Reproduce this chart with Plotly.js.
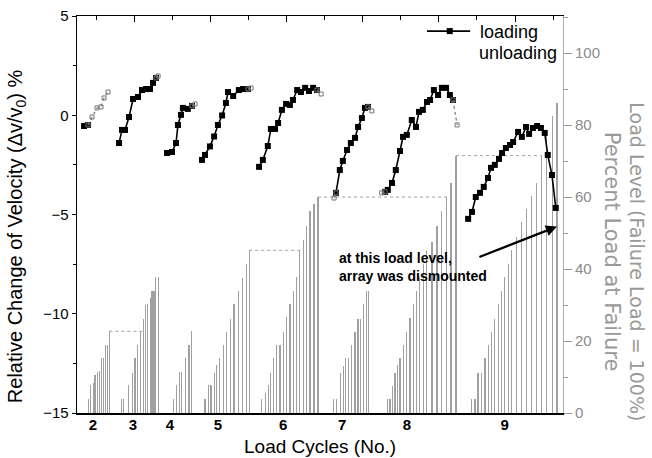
<!DOCTYPE html>
<html>
<head>
<meta charset="utf-8">
<script src="https://cdn.plot.ly/plotly-3.0.1.min.js"></script>
<style>html,body{margin:0;padding:0;background:#fff;}#chart{width:652px;height:458px;}</style>
</head>
<body>
<div id="chart"></div>
<script>
// Cycle labels on the x axis
const cycleLabels = ['2','3','4','5','6','7','8','9'];
const cyclePos = [0.92, 1.97, 2.94, 4.20, 5.91, 7.46, 9.16, 11.73];

// Relative change of velocity, loading branch (null separates cycles)
const loadingX = [
  0.685, 0.79, null,
  1.604, 1.682, 1.76, 1.866, 1.971, 2.102, 2.207, 2.312, 2.417, 2.496, 2.575, null,
  2.864, 2.995, 3.10, 3.15, 3.23, 3.28, 3.41, 3.52, null,
  3.78, 3.86, 3.99, 4.10, 4.20, 4.31, 4.41, 4.465, 4.60, 4.75, 4.86, 4.99, null,
  5.28, 5.38, 5.51, 5.59, 5.70, 5.78, 5.88, 5.99, 6.09, 6.17, 6.28, 6.38, 6.49, 6.59, 6.70, 6.80, null,
  7.30, 7.40, 7.48, 7.59, 7.69, 7.80, 7.88, 7.98, 8.06, 8.14, null,
  8.59, 8.66, 8.77, 8.87, 8.98, 9.06, 9.16, 9.29, 9.40, 9.48, 9.58, 9.69, 9.77, 9.87, 9.98, 10.08, 10.19, 10.29, 10.37, null,
  10.77, 10.87, 10.97, 11.08, 11.18, 11.29, 11.37, 11.47, 11.58, 11.66, 11.76, 11.87, 11.95, 12.08, 12.18, 12.29, 12.37, 12.47, 12.58, 12.68, 12.78, 12.86, 12.97, 13.07
];
const loadingY = [
  -0.54, -0.49, null,
  -1.40, -0.74, -0.74, -0.09, 0.82, 0.92, 1.27, 1.32, 1.32, 1.63, 1.88, null,
  -1.90, -1.85, -1.40, -0.49, 0.02, 0.37, 0.32, 0.47, null,
  -2.25, -2.00, -1.57, -1.07, -0.49, -0.01, 0.62, 1.17, 0.97, 1.27, 1.32, 1.32, null,
  -2.60, -2.25, -1.55, -0.69, -0.69, -0.39, 0.27, 0.57, 0.52, 0.77, 1.27, 1.17, 1.38, 1.22, 1.38, 1.27, null,
  -3.91, -2.76, -2.30, -1.75, -1.40, -1.14, -0.59, -0.14, 0.37, 0.42, null,
  -3.86, -3.76, -3.41, -2.76, -1.80, -1.09, -0.99, -0.24, -0.59, 0.17, 0.27, 0.67, 0.77, 1.27, 1.02, 1.38, 1.38, 1.02, 0.77, null,
  -5.22, -4.87, -4.12, -3.91, -3.61, -3.16, -2.65, -2.50, -2.20, -1.90, -1.65, -1.50, -1.35, -0.84, -1.09, -0.59, -0.94, -0.64, -0.54, -0.64, -0.89, -2.00, -3.01, -4.67
];

// Unloading branch
const unloadingX = [0.79, 0.895, 1.026, 1.13, 1.21, 1.315, null, 2.575, 2.63, null, 3.52, 3.60, null, 4.99, 5.07, null, 6.80, 6.91, null, 7.25, 7.30, null, 8.14, 8.24, null, 8.50, 8.59, null, 10.37, 10.48];
const unloadingY = [-0.49, -0.09, 0.37, 0.42, 0.87, 1.17, null, 1.88, 1.98, null, 0.47, 0.57, null, 1.32, 1.37, null, 1.27, 1.07, null, -4.17, -3.91, null, 0.42, 0.22, null, -3.91, -3.86, null, 0.77, -0.49];

// Load level (% of failure load)
const levelX = [
  0.80, 0.86, 0.93, 0.97, 1.03, 1.09, 1.14, 1.19, 1.24, 1.30, 1.35,
  1.67, 1.73, 1.85, 1.95, 2.02, 2.08, 2.17, 2.25, 2.30, 2.35, 2.42, 2.47, 2.52, 2.57, 2.63,
  3.03, 3.12, 3.19, 3.25, 3.34, 3.44, 3.51,
  3.86, 3.95, 4.02, 4.10, 4.17, 4.24, 4.34, 4.43, 4.52, 4.62, 4.73, 4.85, 4.94, 5.02,
  5.35, 5.44, 5.52, 5.59, 5.65, 5.74, 5.83, 5.93, 6.01, 6.09, 6.18, 6.27, 6.35, 6.44, 6.53, 6.62, 6.72, 6.83,
  7.23, 7.32, 7.42, 7.49, 7.55, 7.62, 7.71, 7.80, 7.88, 7.95, 8.02, 8.10, 8.16,
  8.65, 8.72, 8.79, 8.85, 8.91, 8.98, 9.07, 9.15, 9.24, 9.33, 9.42, 9.50, 9.59, 9.68, 9.82, 9.95, 10.08, 10.21, 10.32, 10.45,
  10.86, 10.95, 11.03, 11.12, 11.21, 11.30, 11.39, 11.47, 11.56, 11.65, 11.73, 11.82, 11.91, 12.04, 12.17, 12.30, 12.44, 12.57, 12.70, 12.83, 12.99, 13.10
];
const levelPct = [
  3.8, 7.8, 8.4, 10.5, 11.4, 11.7, 15.2, 15.2, 18.8, 18.8, 22.7,
  3.8, 3.8, 7.8, 11.1, 15.2, 18.8, 22.7, 26, 30, 30.4, 32, 34, 34, 37.8, 37.8,
  3.8, 7.8, 11.4, 11.4, 15.2, 18.8, 22.7,
  3.8, 7.8, 7.8, 11.1, 13.3, 15.2, 18.8, 22.5, 26.2, 30.2, 33.9, 37.6, 41.3, 45.2,
  3.8, 5.5, 7.8, 11.1, 15.2, 18.8, 18.8, 22.5, 26.7, 30.4, 34, 37.8, 45.2, 48, 52, 56, 58, 60,
  3.8, 3.8, 11, 13, 15.2, 15.2, 18.8, 22.5, 26.2, 26.2, 30.4, 34, 34,
  3.8, 3.8, 7.5, 11.1, 13.3, 15.2, 18.8, 22.5, 26.3, 30.4, 34, 37.8, 41.5, 45.2, 47.6, 52, 56, 60, 64, 71.5,
  3.8, 3.8, 11, 11, 15.2, 18.8, 22.5, 26.2, 30.4, 34, 37.8, 41.5, 45.2, 48.8, 53, 56.7, 60.4, 64, 71.5, 77.5, 82.5, 86
];

// Dotted guide lines at the maximum load levels
const guideX = [1.35, 2.25, null, 5.02, 6.35, null, 6.83, 10.21, null, 6.83, 6.83, null, 10.45, 12.70, null, 10.45, 10.45];
const guideY = [22.7, 22.7, null, 45.2, 45.2, null, 60, 60, null, 0, 60, null, 71.5, 71.5, null, 0, 71.5];

const FONT = 'Liberation Sans, Arial, sans-serif';
const XR = [0.5, 13.26];

const traces = [
  {type: 'bar', x: levelX, y: levelPct, xaxis: 'x', yaxis: 'y', width: 0.032,
   marker: {color: '#a0a0a0', line: {width: 0}}, showlegend: false, hoverinfo: 'skip'},
  {type: 'scatter', mode: 'lines', x: guideX, y: guideY, xaxis: 'x', yaxis: 'y',
   line: {color: '#a0a0a0', width: 1, dash: 'dot'}, showlegend: false, hoverinfo: 'skip'},
  {type: 'scatter', mode: 'lines+markers', name: 'loading', x: loadingX, y: loadingY, xaxis: 'x2', yaxis: 'y2',
   line: {color: '#000', width: 1.6}, marker: {symbol: 'square', size: 6, color: '#000'}, connectgaps: false, showlegend: false},
  {type: 'scatter', mode: 'lines+markers', name: 'unloading', x: unloadingX, y: unloadingY, xaxis: 'x2', yaxis: 'y2',
   line: {color: '#777', width: 1.2, dash: 'dot'}, marker: {symbol: 'square-open', size: 4, color: '#777'}, connectgaps: false, showlegend: false}
];

const layout = {
  width: 652, height: 458,
  margin: {l: 77, r: 89, t: 16, b: 45},
  paper_bgcolor: '#fff', plot_bgcolor: 'rgba(0,0,0,0)',
  font: {family: FONT, color: '#000'},
  bargap: 0,
  showlegend: false,
  xaxis: {range: XR, tickvals: cyclePos, ticktext: cycleLabels, ticks: '', showgrid: false, zeroline: false,
          showline: true, linecolor: '#000', linewidth: 2, ticklabelstandoff: -3,
          tickfont: {size: 15, family: FONT, weight: 'bold'}},
  xaxis2: {range: XR, overlaying: 'x', side: 'top', anchor: 'y2', showgrid: false, zeroline: false,
           showline: true, linecolor: '#000', linewidth: 1.3, showticklabels: false,
           tick0: 0, dtick: 2, ticks: 'inside', ticklen: 6, tickcolor: '#000',
           minor: {dtick: 1, tick0: 0, ticks: 'inside', ticklen: 4, tickcolor: '#000'}},
  yaxis: {range: [0, 110.3], side: 'right', showgrid: false, zeroline: false,
          showline: true, linecolor: '#aaa', linewidth: 1,
          tickvals: [0, 20, 40, 60, 80, 100], ticks: 'outside', ticklen: 8, tickcolor: '#999',
          minor: {tickvals: [10, 30, 50, 70, 90, 110], ticks: 'outside', ticklen: 4, tickcolor: '#999'},
          tickfont: {size: 15, color: '#8a8a8a', family: FONT}},
  yaxis2: {range: [-15, 5], overlaying: 'y', side: 'left', anchor: 'x2', showgrid: false, zeroline: false,
           showline: true, linecolor: '#000', linewidth: 1.3,
           tickvals: [-15, -10, -5, 0, 5], ticks: 'outside', ticklen: 4, tickcolor: '#000',
           minor: {dtick: 2.5, tick0: 0, ticks: 'outside', ticklen: 3, tickcolor: '#000'},
           tickfont: {size: 15, color: '#000', family: FONT}},
  shapes: [
    // legend sample for "loading"
    {type: 'line', xref: 'paper', yref: 'paper', x0: 0.720, x1: 0.809, y0: 0.962, y1: 0.962, line: {color: '#000', width: 1.6}},
    {type: 'rect', xref: 'paper', yref: 'paper', x0: 0.7608, x1: 0.7732, y0: 0.9544, y1: 0.9696, fillcolor: '#000', line: {width: 0}}
  ],
  annotations: [
    {xref: 'paper', yref: 'paper', x: 0.825, y: 0.960, xanchor: 'left', yanchor: 'middle', showarrow: false,
     text: 'loading', font: {size: 18, family: FONT, color: '#000'}},
    {xref: 'paper', yref: 'paper', x: 0.823, y: 0.906, xanchor: 'left', yanchor: 'middle', showarrow: false,
     text: 'unloading', font: {size: 18, family: FONT, color: '#000'}},
    {xref: 'paper', yref: 'paper', x: -0.123, y: 0.446, xanchor: 'center', yanchor: 'middle', textangle: -90, showarrow: false,
     text: 'Relative Change of Velocity (Δv/v<sub>0</sub>) %', font: {size: 20, family: FONT, color: '#000'}},
    {xref: 'paper', yref: 'paper', x: 0.5, y: -0.085, xanchor: 'center', yanchor: 'middle', showarrow: false,
     text: 'Load Cycles (No.)', font: {size: 19, family: FONT, color: '#000'}},
    {xref: 'paper', yref: 'paper', x: 1.101, y: 0.406, xanchor: 'center', yanchor: 'middle', textangle: 90, showarrow: false,
     text: 'Percent Load at Failure', font: {size: 21, family: 'DejaVu Sans, sans-serif', color: '#999'}},
    {xref: 'paper', yref: 'paper', x: 1.152, y: 0.380, xanchor: 'center', yanchor: 'middle', textangle: 90, showarrow: false,
     text: 'Load Level (Failure Load = 100%)', font: {size: 19, family: 'DejaVu Sans, sans-serif', color: '#999'}},
    {xref: 'paper', yref: 'paper', x: 0.535, y: 0.368, xanchor: 'left', yanchor: 'middle', align: 'left', showarrow: false,
     text: 'at this load level,<br>array was dismounted', font: {size: 14, family: FONT, color: '#000', weight: 'bold'}},
    {xref: 'x', yref: 'y', x: 13.1, y: 51.8, ax: -79, ay: 31, text: '', showarrow: true,
     arrowhead: 2, arrowsize: 1, arrowwidth: 2.2, arrowcolor: '#000'}
  ]
};

Plotly.newPlot('chart', traces, layout, {displayModeBar: false, staticPlot: true});
</script>
</body>
</html>
